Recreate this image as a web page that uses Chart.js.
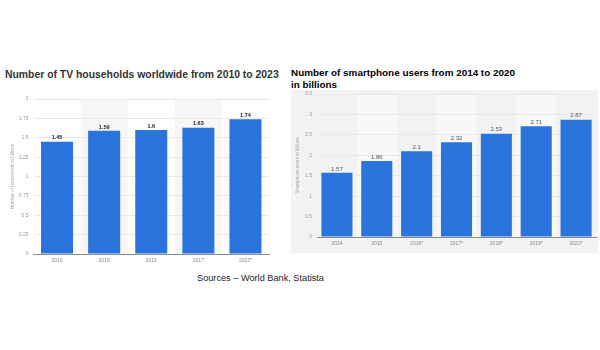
<!DOCTYPE html>
<html>
<head>
<meta charset="utf-8">
<script src="https://cdn.jsdelivr.net/npm/chart.js"></script>
<style>
  body { margin: 0; background: #fff; width: 600px; height: 350px; position: relative; overflow: hidden; font-family: "Liberation Sans", Arial, sans-serif; }
  .abs { position: absolute; }
  #tvTitle { left: 5px; top: 69px; font-size: 10.4px; font-weight: bold; color: #333; white-space: nowrap; }
  #phTitle { left: 291px; top: 67px; font-size: 9.9px; font-weight: bold; color: #000; line-height: 12px; white-space: nowrap; }
  #phBox { left: 291px; top: 90px; width: 307px; height: 163px; background: #f2f2f2; }
  #sources { left: 197px; top: 273px; font-size: 9.2px; color: #222; white-space: nowrap; }
</style>
</head>
<body>
<div id="tvTitle" class="abs">Number of TV households worldwide from 2010 to 2023</div>
<div id="phTitle" class="abs">Number of smartphone users from 2014 to 2020<br>in billions</div>
<div id="phBox" class="abs"></div>
<canvas id="tv" class="abs" width="287" height="178" style="left:0;top:90px"></canvas>
<canvas id="ph" class="abs" width="307" height="166" style="left:291px;top:86px"></canvas>
<div id="sources" class="abs">Sources – World Bank, Statista</div>
<script>
const tvYears = ['2010', '2015', '2016', '2017', '2023*'];
const tvHouseholds = [1.45, 1.59, 1.6, 1.63, 1.74];
const tvTicks = [0, 0.25, 0.5, 0.75, 1, 1.25, 1.5, 1.75, 2];

const phYears = ['2014', '2015', '2016*', '2017*', '2018*', '2019*', '2020*'];
const phUsers = [1.57, 1.86, 2.1, 2.32, 2.53, 2.71, 2.87];
const phTicks = [0, 0.5, 1, 1.5, 2, 2.5, 3, 3.5];

const barBlue = '#2a74dc';

// light stripes behind every other category
const stripes = {
  id: 'stripes',
  beforeDraw(chart, args, opts) {
    const { ctx, chartArea, scales } = chart;
    const n = chart.data.labels.length;
    const w = (chartArea.right - chartArea.left) / n;
    ctx.save();
    ctx.fillStyle = opts.color;
    for (let i = 0; i < n; i++) {
      if (i % 2 !== 1) continue;
      const cx = scales.x.getPixelForValue(i);
      ctx.fillRect(cx - w / 2, chartArea.top, w, chartArea.bottom - chartArea.top);
    }
    ctx.restore();
  }
};

// value labels above bars
const barLabels = {
  id: 'barLabels',
  afterDatasetsDraw(chart, args, opts) {
    const { ctx } = chart;
    const ds = chart.data.datasets[0];
    chart.getDatasetMeta(0).data.forEach((bar, i) => {
      ctx.save();
      ctx.font = opts.font;
      ctx.fillStyle = opts.color;
      ctx.textAlign = 'center';
      ctx.textBaseline = 'bottom';
      ctx.fillText(String(ds.data[i]), bar.x, bar.y - 1);
      ctx.restore();
    });
  }
};

function makeChart(id, labels, values, ticks, cfg) {
  return new Chart(document.getElementById(id), {
    type: 'bar',
    data: {
      labels: labels,
      datasets: [{ data: values, backgroundColor: barBlue, barPercentage: cfg.barPct, categoryPercentage: 1 }]
    },
    options: {
      responsive: false,
      animation: false,
      devicePixelRatio: 1,
      layout: { padding: cfg.padding },
      plugins: {
        legend: { display: false },
        tooltip: { enabled: false },
        stripes: { color: cfg.stripe },
        barLabels: { font: cfg.labelFont, color: cfg.labelColor }
      },
      scales: {
        x: {
          grid: { display: false, drawTicks: false },
          border: { color: '#8a8a8a', width: 1 },
          ticks: { font: { size: 5, family: 'Liberation Sans' }, color: '#888', padding: 4 },
          afterFit(s) { s.height = cfg.xHeight; }
        },
        y: {
          min: 0,
          max: ticks[ticks.length - 1],
          afterBuildTicks(s) { s.ticks = ticks.map(v => ({ value: v })); },
          grid: { color: '#e9e9e9', drawTicks: false },
          border: { display: false },
          ticks: { font: { size: 5, family: 'Liberation Sans' }, color: '#999', padding: 5, callback: v => String(v) },
          title: { display: true, text: cfg.yTitle, font: { size: 4.5, family: 'Liberation Sans' }, color: '#aaa', padding: 0 },
          afterFit(s) { s.width = cfg.yWidth; }
        }
      }
    },
    plugins: [stripes, barLabels]
  });
}

makeChart('tv', tvYears, tvHouseholds, tvTicks, {
  barPct: 0.68,
  padding: { left: 10, right: 18, top: 9, bottom: 0 },
  xHeight: 14,
  yWidth: 23.5,
  yTitle: 'Number of households in billions',
  stripe: '#f6f6f6',
  labelFont: 'bold 5.5px "Liberation Sans"',
  labelColor: '#222'
});

makeChart('ph', phYears, phUsers, phTicks, {
  barPct: 0.78,
  padding: { left: 4, right: 2, top: 8, bottom: 0 },
  xHeight: 15,
  yWidth: 22,
  yTitle: 'Smartphone users in billions',
  stripe: '#f8f8f8',
  labelFont: '6px "Liberation Sans"',
  labelColor: '#555'
});
</script>
</body>
</html>
